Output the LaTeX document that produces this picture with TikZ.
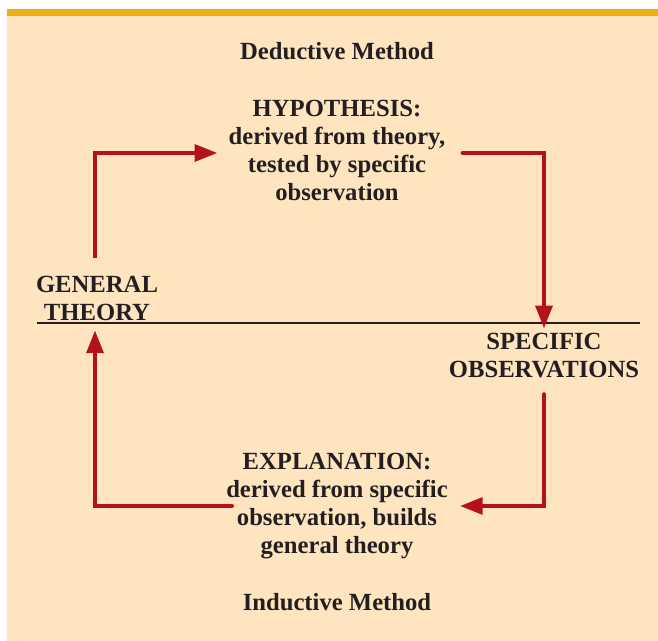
\documentclass[tikz,border=0pt]{standalone}
\usepackage{fontspec}
\setmainfont{Liberation Serif}
\usetikzlibrary{arrows.meta}

\definecolor{peach}{HTML}{FEE5C0}
\definecolor{barorange}{HTML}{ECAE13}
\definecolor{arrowred}{HTML}{B3111B}
\definecolor{inkgray}{HTML}{231F20}

\tikzset{
  label/.style={text=inkgray, font=\fontsize{18.5}{21}\selectfont\bfseries, align=center, inner sep=0pt, anchor=north},
  flow/.style={draw=arrowred, line width=3pt, -{Triangle[length=17pt,width=12.5pt]}}
}

\begin{document}
\begin{tikzpicture}[x=0.75pt, y=-0.75pt]
    % page
    \useasboundingbox (0,0) rectangle (658,641);
    \fill[white] (0,0) rectangle (658,641);
    \fill[peach] (7,9) rectangle (658,641);
    \fill[barorange] (7,9) rectangle (658,16);

    % titles
    \node[label] (ded) at (337,42) {Deductive Method};
    \node[label] (ind) at (337,593) {Inductive Method};

    % the four stations
    \node[label] (hyp) at (337,100) {HYPOTHESIS:\\derived from theory,\\tested by specific\\observation};
    \node[label] (genth) at (97,276) {GENERAL\\THEORY};
    \node[label] (specobs) at (544,333) {SPECIFIC\\OBSERVATIONS};
    \node[label] (expl) at (337,453) {EXPLANATION:\\derived from specific\\observation, builds\\general theory};

    % divider
    \draw[inkgray, line width=1pt] (37,323) -- (640,323);

    % corners of the loop
    \coordinate (nw) at (95,153);
    \coordinate (ne) at (544,153);
    \coordinate (se) at (544,506);
    \coordinate (sw) at (95,506);

    % deductive half
    \draw[flow, shorten <=13.5pt, shorten >=8.25pt] (genth.north -| nw) -- (nw) -- (hyp.west |- nw);
    \draw[flow, line cap=round, shorten <=12.75pt, shorten >=3.5pt] (hyp.east |- ne) -- (ne) -- (specobs.north);

    % inductive half
    \draw[flow, line cap=round, shorten <=12pt, shorten >=9pt] (specobs.south) -- (se) -- (expl.east |- se);
    \draw[flow, line cap=round, shorten <=-4.5pt, shorten >=7pt] (expl.west |- sw) -- (sw) -- (sw |- genth.south);
\end{tikzpicture}
\end{document}
